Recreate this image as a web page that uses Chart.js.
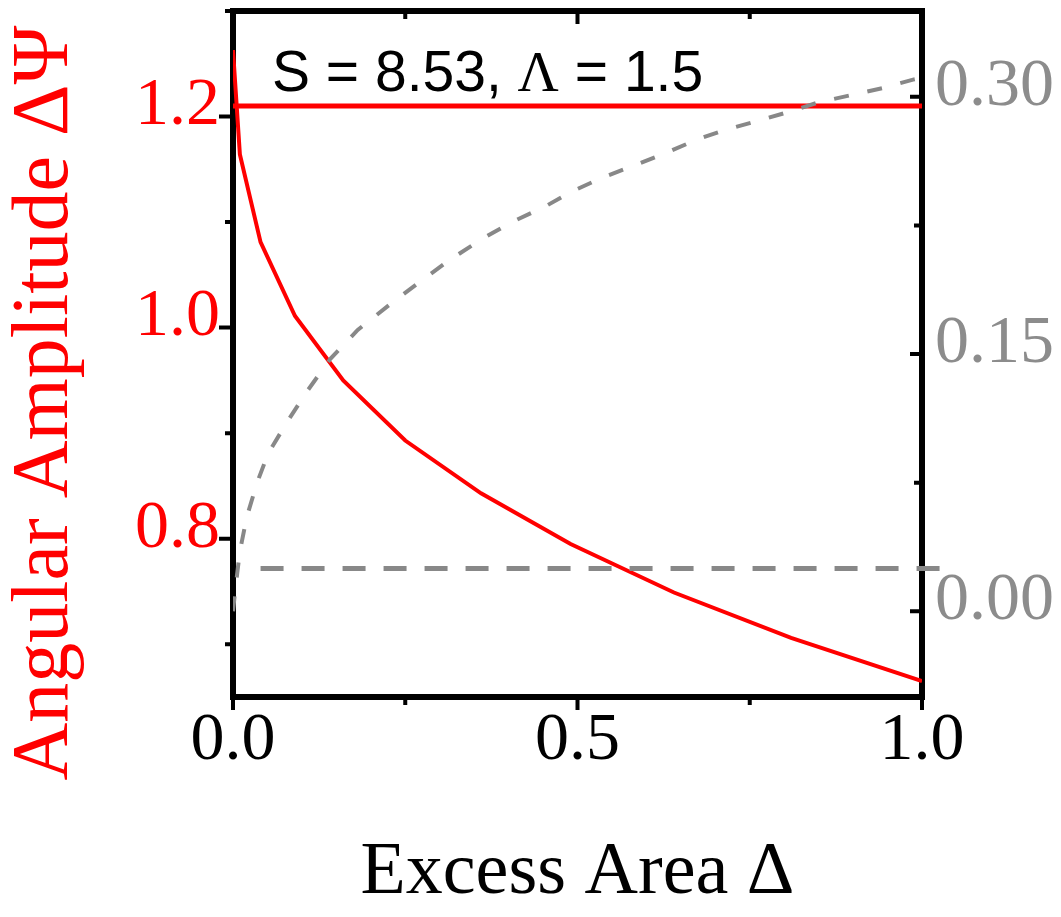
<!DOCTYPE html>
<html>
<head>
<meta charset="utf-8">
<script src="https://cdn.jsdelivr.net/npm/chart.js@4.4.0/dist/chart.umd.min.js"></script>
<style>
  body { margin: 0; background: #fff; }
  canvas { display: block; }
</style>
</head>
<body>
<canvas id="myChart" width="1061" height="917"></canvas>
<script>
// red curve: angular amplitude vs excess area (left axis)
const ampX = [0, 0.01, 0.04, 0.09, 0.16, 0.25, 0.36, 0.49, 0.64, 0.81, 1.0];
const ampY = [1.263, 1.164, 1.081, 1.011, 0.950, 0.893, 0.843, 0.795, 0.749, 0.706, 0.665];
// red horizontal reference
const ampRefX = [0, 1];
const ampRefY = [1.21, 1.21];
// gray dashed curve (right axis)
const grayX = [0, 0.004, 0.01, 0.02, 0.035, 0.051, 0.078, 0.107, 0.141, 0.181, 0.228, 0.271, 0.315, 0.361, 0.405, 0.453, 0.493, 0.537, 0.583, 0.627, 0.673, 0.717, 0.762, 0.805, 0.852, 0.898, 0.942, 0.987, 1.0];
const grayY = [0, 0.015, 0.035, 0.055, 0.075, 0.092, 0.110, 0.128, 0.147, 0.164, 0.179, 0.192, 0.205, 0.217, 0.227, 0.236, 0.245, 0.253, 0.260, 0.267, 0.275, 0.281, 0.286, 0.291, 0.297, 0.301, 0.305, 0.310, 0.311];
// gray horizontal reference (right axis)
const grayRefX = [0.04, 1.03];
const grayRefY = [0.025, 0.025];

const xTicks = [0, 0.25, 0.5, 0.75, 1.0];
const xMajor = [0, 0.5, 1.0];
const leftTicks = [0.7, 0.8, 0.9, 1.0, 1.1, 1.2, 1.3];
const leftMajor = [0.8, 1.0, 1.2];
const rightTicks = [0, 0.075, 0.15, 0.225, 0.30];
const rightMajor = [0, 0.15, 0.30];

const RED = '#ff0000';
const GRAY = '#888888';
const GRAYTXT = '#8c8c8c';
const SERIF = '"Liberation Serif", "Times New Roman", serif';
const SANS = '"Liberation Sans", Arial, sans-serif';

function pts(xs, ys) {
    let out = [];
    for (let i = 0; i < xs.length; i++) out.push({ x: xs[i], y: ys[i] });
    return out;
}
function isIn(list, v) {
    return list.some(m => Math.abs(m - v) < 1e-9);
}
function setTicks(list) {
    return scale => { scale.ticks = list.map(v => ({ value: v })); };
}
// fixed box sizes so the plot area lands where the original one is
function fixBox(size) {
    return s => {
        if (s.isHorizontal()) s.height = size; else s.width = size;
        s.paddingTop = 0; s.paddingBottom = 0;
        s.paddingLeft = 0; s.paddingRight = 0;
    };
}

// frame + major/minor tick marks
const framePlugin = {
    id: 'frame',
    beforeDatasetsDraw(chart) {
        const ctx = chart.ctx;
        const a = chart.chartArea;
        const sx = chart.scales.x, sy = chart.scales.y, sy2 = chart.scales.y2;
        ctx.save();
        ctx.strokeStyle = '#000';
        ctx.lineWidth = 4;
        ctx.beginPath();
        leftTicks.forEach(v => {
            let p = sy.getPixelForValue(v);
            let len = isIn(leftMajor, v) ? 11 : 5;
            ctx.moveTo(a.left, p); ctx.lineTo(a.left - 3 - len, p);
        });
        rightTicks.forEach(v => {
            let p = sy2.getPixelForValue(v);
            let len = isIn(rightMajor, v) ? 9 : 5;
            ctx.moveTo(a.right, p); ctx.lineTo(a.right - 3 - len, p);
        });
        xTicks.forEach(v => {
            let p = sx.getPixelForValue(v);
            let len = isIn(xMajor, v) ? 10 : 5;
            ctx.moveTo(p, a.bottom); ctx.lineTo(p, a.bottom + 3 + len);
            ctx.moveTo(p, a.top); ctx.lineTo(p, a.top + 3 + len);
        });
        ctx.stroke();
        ctx.lineWidth = 6;
        ctx.strokeRect(a.left, a.top, a.right - a.left, a.bottom - a.top);
        ctx.restore();
    },
    afterDraw(chart) {
        const ctx = chart.ctx;
        const a = chart.chartArea;
        ctx.save();
        // left axis title
        ctx.translate(46, 403);
        ctx.rotate(-Math.PI / 2);
        ctx.fillStyle = RED;
        ctx.font = '80px ' + SERIF;
        ctx.textAlign = 'center';
        ctx.textBaseline = 'middle';
        ctx.fillText('Angular Amplitude ΔΨ', 0, 0);
        ctx.restore();

        // parameter label inside the plot
        ctx.save();
        ctx.fillStyle = '#000';
        ctx.textBaseline = 'alphabetic';
        let x = a.left + 39, y = 91;
        let parts = [['S = 8.53, ', SANS], ['Λ', SERIF], [' = 1.5', SANS]];
        parts.forEach(p => {
            ctx.font = '57px ' + p[1];
            ctx.fillText(p[0], x, y);
            x += ctx.measureText(p[0]).width;
        });
        ctx.restore();
    }
};

let ctx = document.getElementById('myChart').getContext('2d');
let myChart = new Chart(ctx, {
    type: 'scatter',
    data: {
        datasets: [{
            data: pts(grayRefX, grayRefY),
            yAxisID: 'y2',
            showLine: true,
            borderColor: GRAY,
            borderWidth: 5,
            borderDash: [23, 18],
            pointRadius: 0,
            clip: false
        }, {
            data: pts(grayX, grayY),
            yAxisID: 'y2',
            showLine: true,
            borderColor: GRAY,
            borderWidth: 4,
            borderDash: [15, 19],
            pointRadius: 0
        }, {
            data: pts(ampRefX, ampRefY),
            yAxisID: 'y',
            showLine: true,
            borderColor: RED,
            borderWidth: 5,
            pointRadius: 0
        }, {
            data: pts(ampX, ampY),
            yAxisID: 'y',
            showLine: true,
            borderColor: RED,
            borderWidth: 4,
            pointRadius: 0
        }]
    },
    options: {
        responsive: false,
        animation: false,
        layout: { padding: { top: 11, left: 0, right: 0, bottom: 0 } },
        plugins: {
            legend: { display: false },
            tooltip: { enabled: false }
        },
        scales: {
            x: {
                type: 'linear',
                position: 'bottom',
                min: 0,
                max: 1,
                afterBuildTicks: setTicks(xTicks),
                afterFit: fixBox(220),
                grid: { display: false, drawTicks: false },
                border: { display: false },
                ticks: {
                    autoSkip: false,
                    maxRotation: 0,
                    padding: 10,
                    color: '#000',
                    font: { family: SERIF, size: 68, lineHeight: 1 },
                    callback: v => isIn(xMajor, v) ? v.toFixed(1) : ''
                },
                title: {
                    display: true,
                    text: 'Excess Area Δ',
                    color: '#000',
                    font: { family: SERIF, size: 74, lineHeight: 1 },
                    padding: { top: 0, bottom: 6 }
                }
            },
            y: {
                type: 'linear',
                position: 'left',
                min: 0.65,
                max: 1.3,
                afterBuildTicks: setTicks(leftTicks),
                afterFit: fixBox(233),
                grid: { display: false, drawTicks: false },
                border: { display: false },
                ticks: {
                    autoSkip: false,
                    padding: 13,
                    labelOffset: -10,
                    color: RED,
                    font: { family: SERIF, size: 68, lineHeight: 1 },
                    callback: v => isIn(leftMajor, v) ? v.toFixed(1) : ''
                }
            },
            y2: {
                type: 'linear',
                position: 'right',
                min: -0.05,
                max: 0.35,
                afterBuildTicks: setTicks(rightTicks),
                afterFit: fixBox(139),
                grid: { display: false, drawTicks: false },
                border: { display: false },
                ticks: {
                    autoSkip: false,
                    padding: 13,
                    labelOffset: -10,
                    color: GRAYTXT,
                    font: { family: SERIF, size: 68, lineHeight: 1 },
                    callback: v => isIn(rightMajor, v) ? v.toFixed(2) : ''
                }
            }
        }
    },
    plugins: [framePlugin]
});
</script>
</body>
</html>
